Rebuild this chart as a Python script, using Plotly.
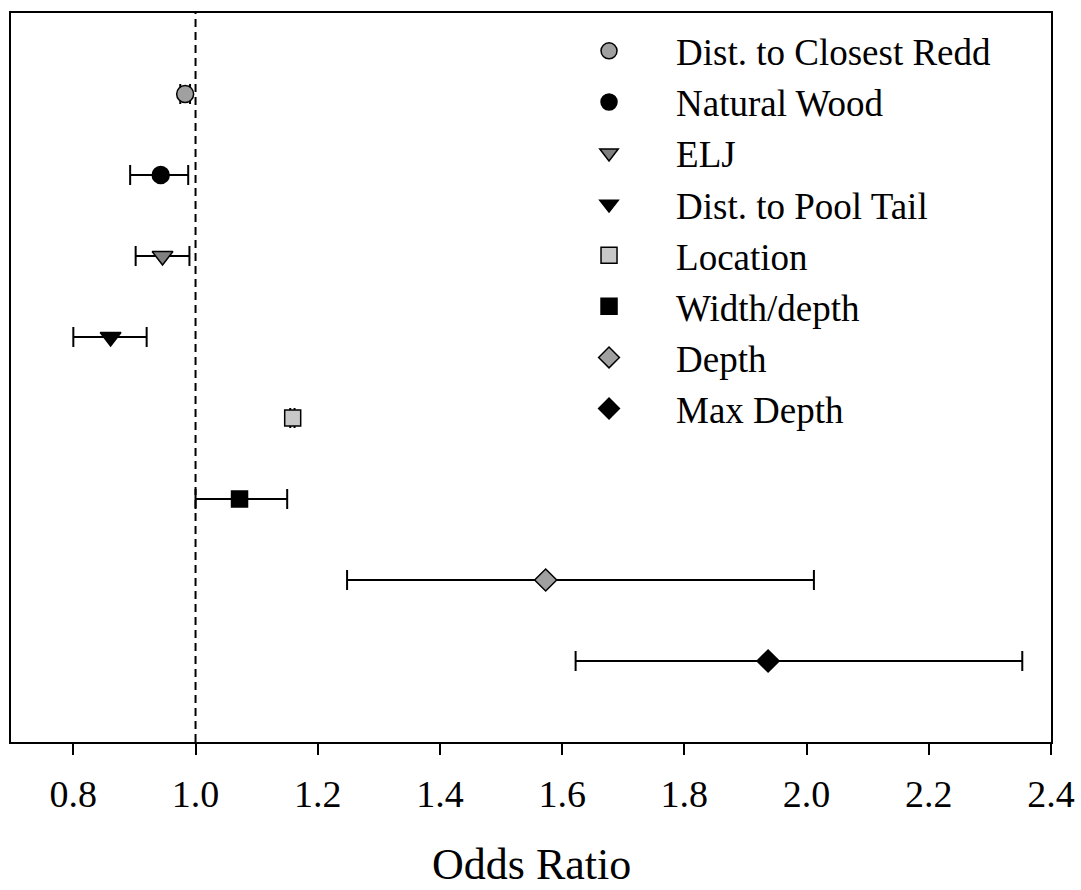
import plotly.graph_objects as go

names = ["Dist. to Closest Redd", "Natural Wood", "ELJ", "Dist. to Pool Tail",
         "Location", "Width/depth", "Depth", "Max Depth"]
odds = [0.983, 0.943, 0.946, 0.861, 1.159, 1.072, 1.573, 1.937]
lower = [0.975, 0.893, 0.902, 0.800, 1.155, 1.000, 1.248, 1.622]
upper = [0.991, 0.988, 0.990, 0.920, 1.162, 1.150, 2.012, 2.353]
rows = [1, 2, 3, 4, 5, 6, 7, 8]
symbols = ["circle", "circle", "triangle-down", "triangle-down",
           "square", "square", "diamond", "diamond"]
fills = ["#a0a0a0", "#000000", "#808080", "#000000",
         "#c8c8c8", "#000000", "#a0a0a0", "#000000"]
sizes = [17, 17, 18, 18, 16, 16, 17, 17]
tick_vals = [0.8, 1.0, 1.2, 1.4, 1.6, 1.8, 2.0, 2.2, 2.4]
tick_text = ["0.8", "1.0", "1.2", "1.4", "1.6", "1.8", "2.0", "2.2", "2.4"]
x_title = "Odds Ratio"

FONT = "Liberation Serif, Times New Roman, serif"

fig = go.Figure()
for i in range(len(names)):
    fig.add_trace(go.Scatter(
        x=[odds[i]], y=[rows[i]], mode="markers", name=names[i],
        marker=dict(symbol=symbols[i], size=sizes[i], color=fills[i],
                    line=dict(color="black", width=1.5)),
        error_x=dict(type="data", symmetric=False,
                     array=[upper[i] - odds[i]], arrayminus=[odds[i] - lower[i]],
                     color="black", thickness=2, width=10),
    ))

fig.add_vline(x=1.0, line=dict(color="black", width=2, dash="8px,5px"), layer="below")

fig.add_annotation(text=x_title, xref="paper", yref="paper", x=0.5, y=-0.1674,
                   xanchor="center", yanchor="middle", showarrow=False,
                   font=dict(family=FONT, size=44, color="black"))

fig.update_layout(
    width=1081, height=890,
    margin=dict(l=11, r=30, t=13, b=148, autoexpand=False),
    paper_bgcolor="white", plot_bgcolor="white",
    font=dict(family=FONT, color="black"),
    showlegend=True,
    legend=dict(x=0.5106, y=0.99, xanchor="left", yanchor="top",
                font=dict(family=FONT, size=37, color="black"),
                bgcolor="rgba(0,0,0,0)", itemwidth=124, tracegroupgap=0),
    xaxis=dict(range=[0.698, 2.4], tickvals=tick_vals, ticktext=tick_text,
               ticks="outside", ticklen=11, tickwidth=2, tickcolor="black",
               showline=True, linecolor="black", linewidth=2, mirror=True,
               showgrid=False, zeroline=False, automargin=False,
               tickfont=dict(family=FONT, size=38, color="black"),
               ticklabelstandoff=6),
    yaxis=dict(range=[9, 0], showticklabels=False, ticks="", showgrid=False,
               zeroline=False, showline=True, linecolor="black", linewidth=2, mirror=True,
               automargin=False),
)

fig.write_html("out.html", config={"displayModeBar": False},
               post_script="document.body.style.margin='0';document.body.style.overflow='hidden';")
